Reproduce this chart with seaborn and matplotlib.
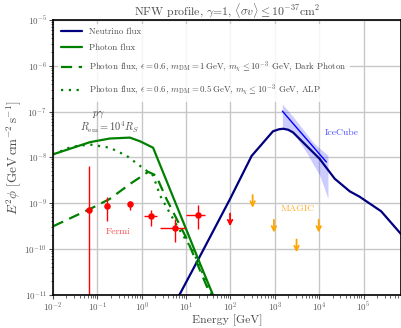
import numpy as np
import pandas as pd
import matplotlib
matplotlib.use("Agg")
import matplotlib.pyplot as plt
import seaborn as sns

# ---- data -------------------------------------------------------------
# photon flux (total)
photon_E = [0.01, 0.068, 0.19, 0.54, 0.91, 1.8, 9.3, 19.5, 40]
photon_phi = [1.16e-8, 2.14e-8, 2.57e-8, 2.69e-8, 2.24e-8, 1.62e-8, 3.2e-10, 5.4e-11, 1.0e-11]

# photon flux, dark photon scenario
dark_E = [0.01, 0.068, 0.19, 0.54, 1.4, 2.1, 3.6, 10.2, 35]
dark_phi = [3.1e-10, 7.4e-10, 1.23e-9, 2.6e-9, 4.8e-9, 4.0e-9, 1.23e-9, 1.7e-10, 1.0e-11]

# photon flux, ALP scenario
alp_E = [0.01, 0.026, 0.068, 0.19, 0.46, 0.91, 1.8, 2.6, 6.2, 14.5, 40]
alp_phi = [1.15e-8, 1.7e-8, 1.9e-8, 1.62e-8, 1.07e-8, 6.5e-9, 4.0e-9, 1.45e-9, 3.2e-10, 8.7e-11, 9e-12]

# neutrino flux
nu_E = [6.3, 20.4, 98, 300, 910, 1250, 1550, 2000, 2570, 10200, 22400, 49000, 81000, 250000, 700000]
nu_phi = [8e-12, 6.8e-11, 1.23e-9, 1.07e-8, 3.7e-8, 4.1e-8, 4.2e-8, 4.0e-8, 3.5e-8, 9.3e-9, 3.4e-9,
          1.8e-9, 1.38e-9, 6.6e-10, 2.1e-10]

# IceCube best fit and band
ic_E = [1480, 14500]
ic_phi = [1.02e-7, 7.9e-9]
ic_band_E = [1480, 2570, 5130, 7240, 10200, 15800]
ic_band_hi = [1.45e-7, 7.8e-8, 3.3e-8, 2.14e-8, 1.58e-8, 1.1e-8]
ic_band_lo = [4.2e-8, 3.5e-8, 1.3e-8, 7.2e-9, 4.1e-9, 1.26e-9]

# Fermi data points
fermi_E = [0.066, 0.165, 0.54, 1.6, 5.6, 18.6]
fermi_phi = [7.1e-10, 8.7e-10, 9.5e-10, 5.2e-10, 2.9e-10, 5.4e-10]
fermi_hi = [6.5e-9, 1.35e-9, 1.12e-9, 6.9e-10, 4.4e-10, 8.9e-10]
fermi_lo = [1e-12, 4.1e-10, 6.9e-10, 3.2e-10, 1.4e-10, 2.75e-10]
fermi_Elo = [0.066, 0.165, 0.54, 1.12, 2.6, 10.2]
fermi_Ehi = [0.066, 0.165, 0.54, 2.24, 9.3, 26.0]
fermi_ul_E = [98]
fermi_ul_phi = [5.9e-10]

# MAGIC upper limits
magic_E = [316, 955, 3090, 9770]
magic_phi = [1.5e-9, 4.3e-10, 1.6e-10, 4.3e-10]

# ---- style ------------------------------------------------------------
sns.set_style("ticks")
plt.rcParams.update({
    "font.family": "serif",
    "font.serif": ["cmr10", "DejaVu Serif"],
    "mathtext.fontset": "cm",
    "axes.formatter.use_mathtext": True,
    "axes.unicode_minus": False,
})

fig = plt.figure(figsize=(4.02, 3.28), dpi=100)
ax = fig.add_axes([0.132, 0.102, 0.8655, 0.837])

nu_col = "#000080"
ph_col = "#008000"

sns.lineplot(x=nu_E, y=nu_phi, ax=ax, color=nu_col, lw=1.6, sort=False,
             estimator=None, label="Neutrino flux")
sns.lineplot(x=photon_E, y=photon_phi, ax=ax, color=ph_col, lw=1.6, sort=False,
             estimator=None, label="Photon flux")
sns.lineplot(x=dark_E, y=dark_phi, ax=ax, color=ph_col, lw=1.6, sort=False,
             estimator=None, linestyle=(0, (5, 3)),
             label=r"Photon flux, $\epsilon=0.6$, $m_{\rm DM}=1\,$GeV, $m_\chi\leq10^{-3}$ GeV, Dark Photon")
sns.lineplot(x=alp_E, y=alp_phi, ax=ax, color=ph_col, lw=1.6, sort=False,
             estimator=None, linestyle=(0, (1, 2.5)),
             label=r"Photon flux, $\epsilon=0.6$, $m_{\rm DM}=0.5\,$GeV, $m_\chi\leq10^{-3}$ GeV, ALP")

# IceCube
ax.fill_between(ic_band_E, ic_band_lo, ic_band_hi, color="blue", alpha=0.2, lw=0)
sns.lineplot(x=ic_E, y=ic_phi, ax=ax, color="blue", lw=1.0, sort=False,
             estimator=None, legend=False)

# Fermi
fE = np.array(fermi_E)
fphi = np.array(fermi_phi)
ax.errorbar(fE, fphi,
            yerr=[fphi - np.array(fermi_lo), np.array(fermi_hi) - fphi],
            xerr=[fE - np.array(fermi_Elo), np.array(fermi_Ehi) - fE],
            fmt="none", ecolor="red", elinewidth=1.0)
sns.scatterplot(x=fermi_E, y=fermi_phi, ax=ax, color="red", s=22,
                edgecolor="red", linewidth=0, legend=False, zorder=5)

def down_arrow(x, y, color):
    ax.annotate("", xy=(x, y / 1.9), xytext=(x, y),
                arrowprops=dict(arrowstyle="->", color=color, lw=1.3,
                                mutation_scale=8, shrinkA=0, shrinkB=0))

for e, p in zip(fermi_ul_E, fermi_ul_phi):
    down_arrow(e, p, "red")
for e, p in zip(magic_E, magic_phi):
    down_arrow(e, p, "orange")

# annotations
ax.text(0.075, 8.7e-8, r"$p\gamma$", color="0.3", fontsize=7.5, va="center")
ax.text(0.041, 4.6e-8, r"$R_{\rm em}=10^4R_S$", color="0.3", fontsize=7.5, va="center")
ax.text(0.29, 2.3e-10, "Fermi", color="#ff5050", fontsize=7, ha="center", va="center")
ax.text(32000, 3.5e-8, "IceCube", color="#5050ff", fontsize=7, ha="center", va="center")
ax.text(3300, 7.6e-10, "MAGIC", color="#ffb030", fontsize=7, ha="center", va="center")

# axes
ax.set_xscale("log")
ax.set_yscale("log")
ax.set_xlim(1e-2, 7e5)
ax.set_ylim(1e-11, 1e-5)
ax.set_xticks([1e-2, 1e-1, 1e0, 1e1, 1e2, 1e3, 1e4, 1e5])
ax.set_yticks([1e-11, 1e-10, 1e-9, 1e-8, 1e-7, 1e-6, 1e-5])
ax.grid(True, which="major", color="0.78", lw=1.0)
ax.tick_params(which="major", labelsize=6.5, length=3, width=0.8, color="0.3",
               labelcolor="0.35", pad=1.5)
ax.tick_params(which="minor", length=1.8, width=0.6, color="0.3")
for s in ax.spines.values():
    s.set_color("black")
    s.set_linewidth(1.2)

ax.set_xlabel("Energy [GeV]", fontsize=8.5, color="0.3", va="center")
ax.xaxis.set_label_coords(0.5, -0.092)
ax.set_ylabel(r"$E^2\phi\ [{\rm GeV\,cm^{-2}\,s^{-1}}]$", fontsize=9.5, color="0.3", labelpad=1)
ax.set_title(r"NFW profile, $\gamma$=1, $\langle\sigma v\rangle\leq10^{-37}$cm$^2$",
             fontsize=8.5, color="0.3", pad=2)

leg = ax.legend(loc="upper left", fontsize=6.4, frameon=True, framealpha=0.85,
                edgecolor="none", handlelength=2.3, borderaxespad=0.5,
                labelspacing=0.85)
for t in leg.get_texts():
    t.set_color("0.3")

fig.savefig("out.png", dpi=100)
